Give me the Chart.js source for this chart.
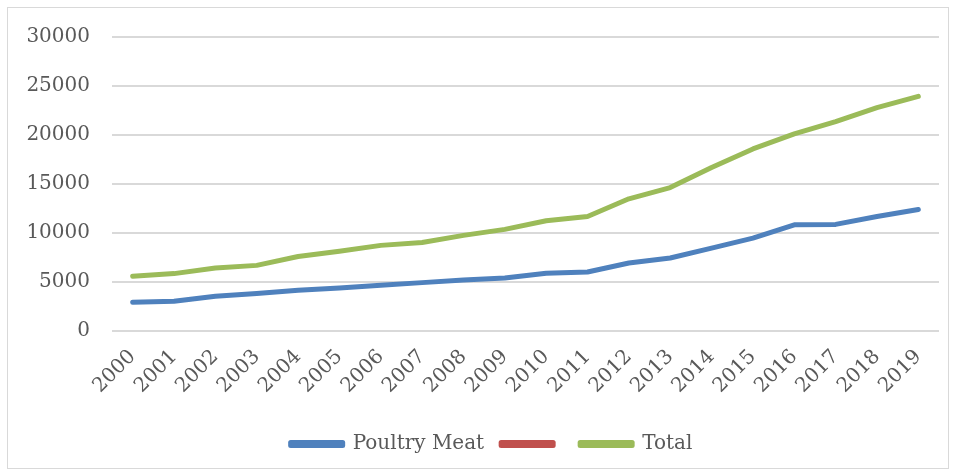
<!DOCTYPE html>
<html>
<head>
<meta charset="utf-8">
<script src="https://cdn.jsdelivr.net/npm/chart.js@4"></script>
<style>
  html, body { margin: 0; padding: 0; background: #fff; }
  #marco {
    position: absolute;
    left: 7px; top: 7px;
    width: 940px; height: 460px;
    border: 1px solid #d9d9d9;
  }
  /* el lienzo sube un poco para que la rejilla empiece donde en el original */
  #lienzo {
    position: absolute;
    left: 0; right: 0; top: -5px; bottom: 0;
  }
</style>
</head>
<body>
<div id="marco"><div id="lienzo"><canvas id="grafico"></canvas></div></div>
<script>
const anios = ["2000","2001","2002","2003","2004","2005","2006","2007","2008","2009",
  "2010","2011","2012","2013","2014","2015","2016","2017","2018","2019"];

// Poultry Meat
const carneAves = [2930, 3030, 3540, 3820, 4150, 4390, 4660, 4940, 5210, 5410,
  5890, 6020, 6940, 7450, 8460, 9480, 10840, 10880, 11690, 12400];

// serie sin nombre (no se ve en el gráfico)
const otraSerie = [];

const total = [5580, 5860, 6430, 6700, 7600, 8130, 8740, 9040, 9760, 10370,
  11250, 11690, 13490, 14640, 16680, 18580, 20110, 21365, 22790, 23940];

const ticksY = [0, 5000, 10000, 15000, 20000, 25000, 30000];

const gris = "#595959";
const fuente = { family: "DejaVu Serif", size: 20 };

const serie = (label, data, color) => ({
  label,
  data,
  borderColor: color,
  backgroundColor: color,
  borderWidth: 5,
  borderCapStyle: "round",
  borderJoinStyle: "round",
  pointRadius: 0,
  tension: 0,
});

// corre la leyenda un poco a la derecha, como en el original
const moverLeyenda = {
  id: "moverLeyenda",
  afterLayout: (chart) => {
    if (chart.legend) chart.legend.left += 36;
  },
};

new Chart(document.getElementById("grafico"), {
  type: "line",
  data: {
    labels: anios,
    datasets: [
      serie("Poultry Meat", carneAves, "#4f81bd"),
      serie("", otraSerie, "#c0504d"),
      serie("Total", total, "#9bbb59"),
    ],
  },
  options: {
    responsive: true,
    maintainAspectRatio: false,
    animation: false,
    layout: { padding: { left: 0, right: 9, top: 0, bottom: 4 } },
    plugins: {
      legend: {
        position: "bottom",
        labels: {
          color: gris,
          font: fuente,
          boxWidth: 52,
          boxHeight: 3,
          padding: 17,
        },
      },
      tooltip: { enabled: false },
    },
    scales: {
      x: {
        offset: true,
        grid: { display: false },
        border: { display: false },
        afterFit: (eje) => { eje.height += 13; },
        ticks: {
          color: gris,
          font: fuente,
          maxRotation: 45,
          minRotation: 45,
          autoSkip: false,
          padding: 6,
        },
      },
      y: {
        min: 0,
        max: 30000,
        afterBuildTicks: (eje) => { eje.ticks = ticksY.map((v) => ({ value: v })); },
        afterFit: (eje) => { eje.width = 104; },
        grid: { color: "#d9d9d9", lineWidth: 2, drawTicks: false },
        border: { display: false },
        ticks: {
          color: gris,
          font: fuente,
          padding: 22,
          callback: (v) => String(v),
        },
      },
    },
  },
  plugins: [moverLeyenda],
});
</script>
</body>
</html>
